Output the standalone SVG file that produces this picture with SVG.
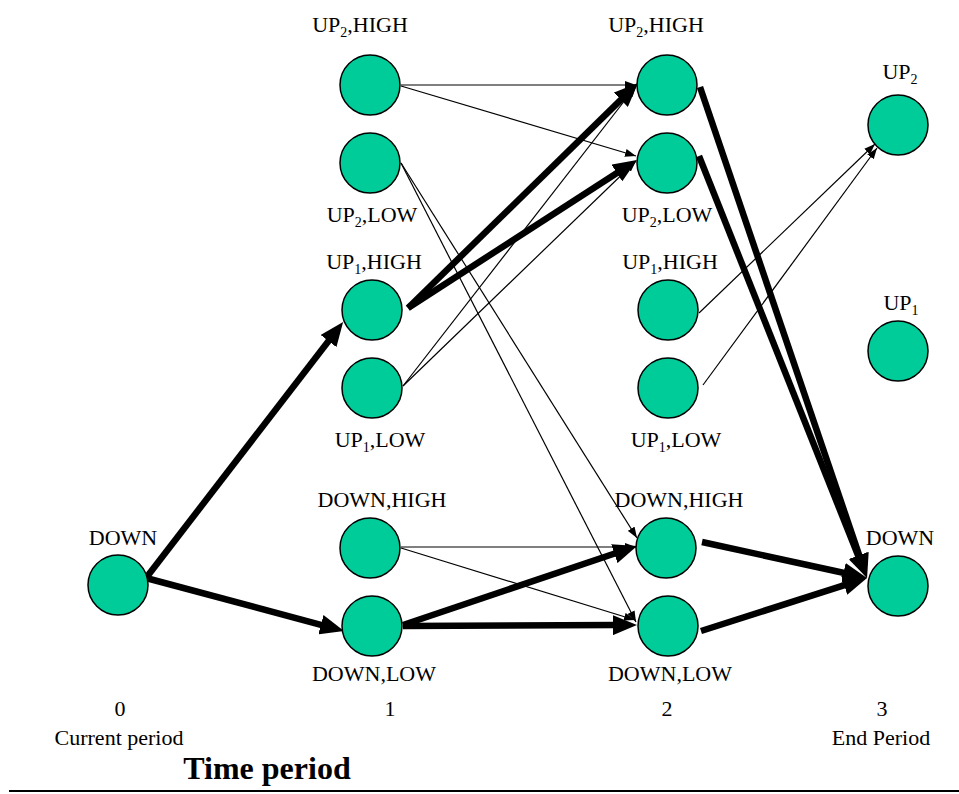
<svg xmlns="http://www.w3.org/2000/svg" width="959" height="794" viewBox="0 0 959 794">
<style>
.n{fill:#00CC99;stroke:#000;stroke-width:1.5}
text{font-family:"Liberation Serif","Times New Roman",serif;font-size:22px;fill:#000;text-anchor:middle}
.s{font-size:14px}
.thick{stroke:#000;stroke-width:6.5;fill:none;marker-end:url(#ah)}
.thin{stroke:#000;stroke-width:1.2;fill:none;marker-end:url(#at)}
.t{font-weight:bold;font-size:32px}
</style>
<defs>
<marker id="ah" markerUnits="userSpaceOnUse" markerWidth="24" markerHeight="20" viewBox="0 0 24 20" refX="2" refY="10" orient="auto">
<path d="M0,0 L24,10 L0,20 z" fill="#000"/>
</marker>
<marker id="at" markerUnits="userSpaceOnUse" markerWidth="11" markerHeight="8" viewBox="0 0 11 8" refX="11" refY="4" orient="auto">
<path d="M0,0 L11,4 L0,8 z" fill="#000"/>
</marker>
</defs>
<rect width="959" height="794" fill="#fff"/>
<g id="connectors">
<line class="thin" x1="401" y1="85" x2="636" y2="85"/>
<line class="thin" x1="401" y1="86" x2="636" y2="156"/>
<line class="thin" x1="401" y1="163" x2="637" y2="538"/>
<line class="thin" x1="401" y1="163" x2="636" y2="622"/>
<line class="thin" x1="403" y1="386" x2="636" y2="86"/>
<line class="thin" x1="403" y1="386" x2="636" y2="161"/>
<line class="thin" x1="401" y1="547" x2="636" y2="547"/>
<line class="thin" x1="401" y1="548" x2="635" y2="620"/>
<line class="thin" x1="699" y1="313" x2="875" y2="144"/>
<line class="thin" x1="703" y1="385" x2="877" y2="148"/>
<line class="thick" x1="146" y1="578" x2="329.7" y2="339.5"/>
<line class="thick" x1="146" y1="578" x2="322.8" y2="625.3"/>
<line class="thick" x1="408" y1="308" x2="622.3" y2="98.4"/>
<line class="thick" x1="408" y1="308" x2="618.5" y2="171.9"/>
<line class="thick" x1="403" y1="625" x2="616.2" y2="553"/>
<line class="thick" x1="403" y1="626" x2="615" y2="625.1"/>
<line class="thick" x1="700" y1="87" x2="859.9" y2="557.2"/>
<line class="thick" x1="699" y1="156" x2="858.9" y2="557.6"/>
<line class="thick" x1="702" y1="542" x2="845.5" y2="573.3"/>
<line class="thick" x1="701" y1="631" x2="846.1" y2="584.7"/>
</g>
<g id="n0-down"><circle class="n" cx="118" cy="585" r="30"/><text x="123" y="545">DOWN</text></g>
<g id="n1-up2-high"><circle class="n" cx="370" cy="85" r="30"/><text x="360" y="32">UP<tspan class="s" dy="5">2</tspan><tspan dy="-5">,HIGH</tspan></text></g>
<g id="n1-up2-low"><circle class="n" cx="370" cy="163" r="30"/><text x="372" y="222">UP<tspan class="s" dy="5">2</tspan><tspan dy="-5">,LOW</tspan></text></g>
<g id="n1-up1-high"><circle class="n" cx="372" cy="310" r="30"/><text x="374" y="269">UP<tspan class="s" dy="5">1</tspan><tspan dy="-5">,HIGH</tspan></text></g>
<g id="n1-up1-low"><circle class="n" cx="372" cy="388" r="30"/><text x="380" y="447">UP<tspan class="s" dy="5">1</tspan><tspan dy="-5">,LOW</tspan></text></g>
<g id="n1-down-high"><circle class="n" cx="370" cy="548" r="30"/><text x="382" y="507">DOWN,HIGH</text></g>
<g id="n1-down-low"><circle class="n" cx="372" cy="626" r="30"/><text x="374" y="681">DOWN,LOW</text></g>
<g id="n2-up2-high"><circle class="n" cx="667" cy="85" r="30"/><text x="656" y="32">UP<tspan class="s" dy="5">2</tspan><tspan dy="-5">,HIGH</tspan></text></g>
<g id="n2-up2-low"><circle class="n" cx="667" cy="163" r="30"/><text x="667" y="222">UP<tspan class="s" dy="5">2</tspan><tspan dy="-5">,LOW</tspan></text></g>
<g id="n2-up1-high"><circle class="n" cx="668" cy="310" r="30"/><text x="670" y="269">UP<tspan class="s" dy="5">1</tspan><tspan dy="-5">,HIGH</tspan></text></g>
<g id="n2-up1-low"><circle class="n" cx="668" cy="388" r="30"/><text x="676" y="447">UP<tspan class="s" dy="5">1</tspan><tspan dy="-5">,LOW</tspan></text></g>
<g id="n2-down-high"><circle class="n" cx="666" cy="548" r="30"/><text x="679" y="507">DOWN,HIGH</text></g>
<g id="n2-down-low"><circle class="n" cx="668" cy="626" r="30"/><text x="670" y="681">DOWN,LOW</text></g>
<g id="n3-up2"><circle class="n" cx="898" cy="125" r="30"/><text x="900" y="79">UP<tspan class="s" dy="5">2</tspan></text></g>
<g id="n3-up1"><circle class="n" cx="898" cy="351" r="30"/><text x="901" y="310">UP<tspan class="s" dy="5">1</tspan></text></g>
<g id="n3-down"><circle class="n" cx="898" cy="586" r="30"/><text x="900" y="545">DOWN</text></g>
<g id="axis">
<text x="120" y="716">0</text>
<text x="390" y="716">1</text>
<text x="667" y="716">2</text>
<text x="882" y="716">3</text>
<text x="119" y="745">Current period</text>
<text x="881" y="745">End Period</text>
<text class="t" x="267" y="779">Time period</text>
<line x1="9" y1="791" x2="959" y2="791" stroke="#000" stroke-width="2"/>
</g>
</svg>
